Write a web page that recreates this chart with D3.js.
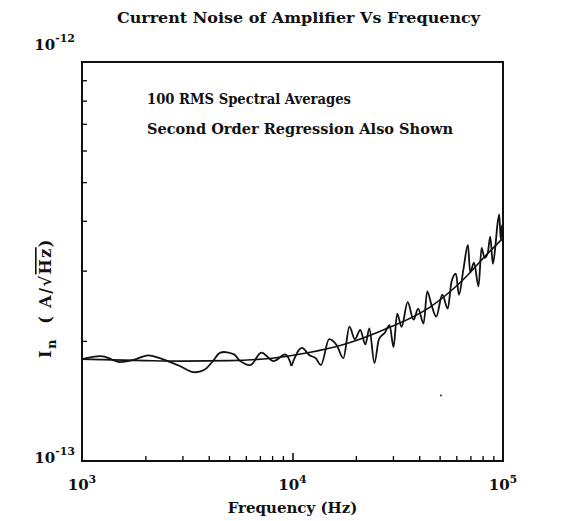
<!DOCTYPE html>
<html>
<head>
<meta charset="utf-8">
<script src="https://cdn.jsdelivr.net/npm/d3@7"></script>
<style>
  body { margin: 0; background: #fff; }
  text { font-family: "DejaVu Serif", serif; fill: #111; }
</style>
</head>
<body>
<svg id="chart" width="570" height="521"></svg>
<script>
// measured spectrum, values in units of 1e-13 A/sqrt(Hz)
var noiseFreq = [1000, 1256, 1500, 1741, 2061, 2344, 2555, 2916, 3382, 3797,
                 4190, 4545, 5280, 5641, 6324, 7112, 8111, 9253, 9880, 11090,
                 12050, 12880, 13650, 14930, 16220, 17450, 18640, 19780, 20990, 22200,
                 23170, 24500, 25740, 27520, 28920, 30190, 31420, 32980, 35240, 37600,
                 39520, 41950, 43650, 45840, 48170, 51480, 54650, 56900, 59750, 61770,
                 64900, 68170, 69820, 72850, 76510, 79100, 81800, 84600, 87000, 89500,
                 92000, 94000, 96000, 97500, 99000, 100000];
var noiseVal  = [1.80, 1.83, 1.77, 1.79, 1.84, 1.81, 1.78, 1.73, 1.67, 1.69,
                 1.78, 1.87, 1.85, 1.78, 1.74, 1.87, 1.78, 1.85, 1.73, 1.92,
                 1.84, 1.81, 1.74, 2.02, 1.95, 1.81, 2.17, 2.02, 2.13, 1.96,
                 2.15, 1.76, 2.02, 2.10, 2.19, 1.93, 2.34, 2.17, 2.50, 2.26,
                 2.41, 2.21, 2.66, 2.45, 2.30, 2.61, 2.41, 2.81, 2.95, 2.61,
                 3.03, 3.48, 2.97, 3.14, 2.74, 3.42, 3.23, 3.32, 3.65, 3.12,
                 3.45, 3.90, 4.15, 3.60, 3.90, 3.45];

// second order regression curve
var regFreq = [1000, 2000, 3000, 5000, 8000, 12000, 17000, 27000, 45000, 63000, 85000, 100000];
var regVal  = [1.80, 1.785, 1.78, 1.785, 1.81, 1.87, 1.95, 2.13, 2.43, 2.81, 3.32, 3.62];

// isolated speck below the curve
var speckFreq = [50700];
var speckVal  = [1.46];

var xMinor = [2000, 3000, 4000, 5000, 6000, 7000, 8000, 9000,
              20000, 30000, 40000, 50000, 60000, 70000, 80000, 90000];
var xMajor = [1000, 10000, 100000];
var xLabels = ["3", "4", "5"];
var yMinor = [2, 3, 4, 5, 6, 7, 8, 9];

var svg = d3.select("#chart");
var pLeft = 82, pRight = 503, pTop = 62, pBottom = 461;

var x = d3.scaleLog().domain([1000, 100000]).range([pLeft, pRight]);
var y = d3.scaleLog().domain([1, 10]).range([pBottom, pTop]);

// title
svg.append("text")
  .attr("x", 298.5).attr("y", 23)
  .attr("text-anchor", "middle")
  .attr("textLength", 363).attr("lengthAdjust", "spacingAndGlyphs")
  .style("font-size", "15px").style("font-weight", "bold")
  .text("Current Noise of Amplifier Vs Frequency");

// axes with inward ticks
svg.append("g")
  .attr("transform", "translate(0," + pBottom + ")")
  .call(d3.axisBottom(x).tickValues(xMinor).tickSize(-5).tickFormat(""))
  .call(function(g) { g.select(".domain").remove(); })
  .selectAll("line").attr("stroke-width", 1.3);

svg.append("g")
  .attr("transform", "translate(0," + pBottom + ")")
  .call(d3.axisBottom(x).tickValues([10000]).tickSize(-8).tickFormat(""))
  .call(function(g) { g.select(".domain").remove(); })
  .selectAll("line").attr("stroke-width", 1.5);

svg.append("g")
  .attr("transform", "translate(" + pLeft + ",0)")
  .call(d3.axisLeft(y).tickValues(yMinor).tickSize(-5).tickFormat(""))
  .call(function(g) { g.select(".domain").remove(); })
  .selectAll("line").attr("stroke-width", 1.3);

// frame
svg.append("rect")
  .attr("x", pLeft).attr("y", pTop)
  .attr("width", pRight - pLeft).attr("height", pBottom - pTop)
  .attr("fill", "none").attr("stroke", "#111").attr("stroke-width", 2);

// x tick labels 10^n
xMajor.forEach(function(f, i) {
  var t = svg.append("text")
    .attr("x", x(f)).attr("y", 490)
    .attr("text-anchor", "middle")
    .style("font-size", "15px").style("font-weight", "bold");
  t.append("tspan").text("10");
  t.append("tspan").attr("dy", -7).style("font-size", "11px").text(xLabels[i]);
});

// y tick labels
[[10, "-12", 50], [1, "-13", 463]].forEach(function(d) {
  var t = svg.append("text")
    .attr("x", 75).attr("y", d[2])
    .attr("text-anchor", "end")
    .style("font-size", "15px").style("font-weight", "bold");
  t.append("tspan").text("10");
  t.append("tspan").attr("dy", -8).style("font-size", "11px").text(d[1]);
});

// axis titles
svg.append("text")
  .attr("x", x(10000)).attr("y", 513)
  .attr("text-anchor", "middle")
  .style("font-size", "15px").style("font-weight", "bold")
  .text("Frequency (Hz)");

var yl = svg.append("text")
  .attr("transform", "translate(51,298) rotate(-90)")
  .attr("text-anchor", "middle")
  .style("font-size", "16px").style("font-weight", "bold")
  .style("letter-spacing", "1.5px");
yl.append("tspan").text("I");
yl.append("tspan").attr("dy", 5).style("font-size", "13px").text("n");
yl.append("tspan").attr("dy", -5).text("\u00A0\u00A0( A/\u221A");
yl.append("tspan").style("text-decoration", "overline").text("Hz");
yl.append("tspan").text(")");

// annotation
svg.append("text")
  .attr("x", 147).attr("y", 104)
  .attr("textLength", 204).attr("lengthAdjust", "spacingAndGlyphs")
  .style("font-size", "14px").style("font-weight", "bold")
  .text("100 RMS Spectral Averages");
svg.append("text")
  .attr("x", 147).attr("y", 134)
  .attr("textLength", 306).attr("lengthAdjust", "spacingAndGlyphs")
  .style("font-size", "14px").style("font-weight", "bold")
  .text("Second Order Regression Also Shown");

// lines
var noise = noiseFreq.map(function(f, i) { return [f, noiseVal[i]]; });
var reg = regFreq.map(function(f, i) { return [f, regVal[i]]; });
var split = noiseFreq.indexOf(9880);

var line = d3.line()
  .x(function(d) { return x(d[0]); })
  .y(function(d) { return y(d[1]); });

svg.append("path")
  .datum(reg)
  .attr("d", line.curve(d3.curveMonotoneX))
  .attr("fill", "none").attr("stroke", "#111").attr("stroke-width", 1.6);

// low band plotted smooth, upper band jagged like the original trace
svg.append("path")
  .datum(noise.slice(0, split + 1))
  .attr("d", line.curve(d3.curveCatmullRom.alpha(0.5)))
  .attr("fill", "none").attr("stroke", "#111").attr("stroke-width", 1.8)
  .attr("stroke-linejoin", "round");

svg.append("path")
  .datum(noise.slice(split))
  .attr("d", line.curve(d3.curveMonotoneX))
  .attr("fill", "none").attr("stroke", "#111").attr("stroke-width", 1.8)
  .attr("stroke-linejoin", "round");

svg.selectAll(".speck")
  .data(speckFreq)
  .enter().append("circle")
  .attr("class", "speck")
  .attr("cx", function(d) { return x(d); })
  .attr("cy", function(d, i) { return y(speckVal[i]); })
  .attr("r", 1)
  .attr("fill", "#333");
</script>
</body>
</html>
